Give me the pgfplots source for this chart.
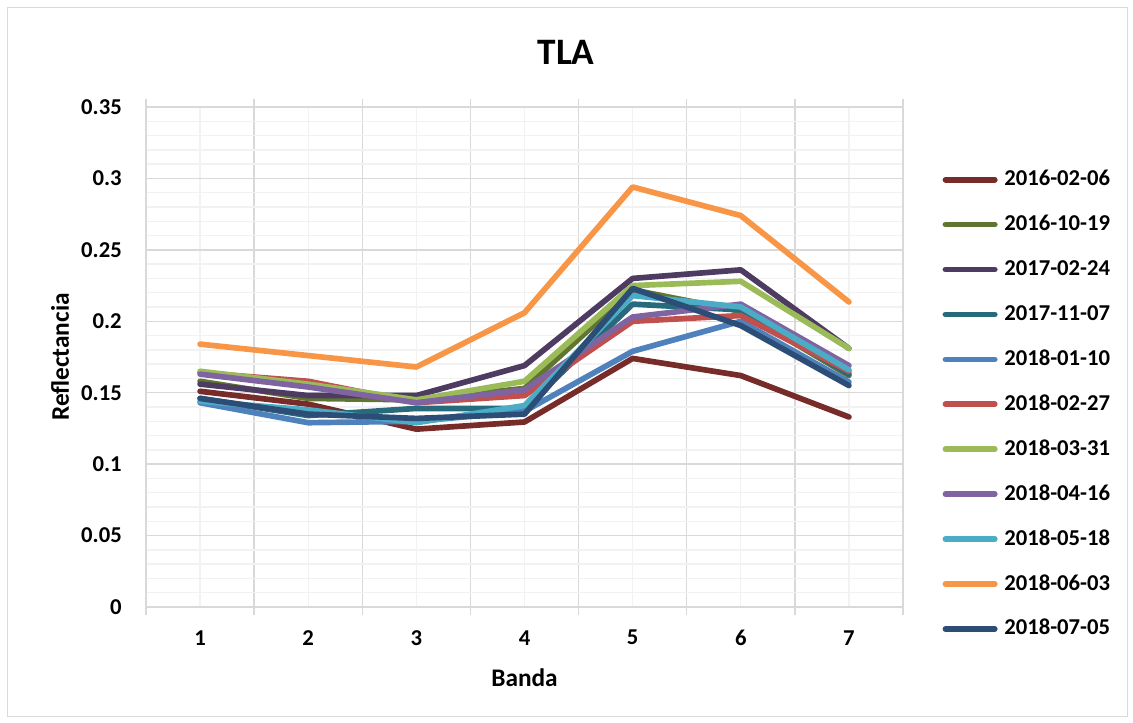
\documentclass[border=0pt]{standalone}
\usepackage{fontspec}
\setmainfont{Carlito}
\usepackage{pgfplots}
\pgfplotsset{compat=1.18}
\usepackage{pgfplotstable}

\definecolor{gmaj}{HTML}{D9D9D9}
\definecolor{gmin}{HTML}{F2F2F2}
\definecolor{c1}{HTML}{772C2A}
\definecolor{c2}{HTML}{5F7530}
\definecolor{c3}{HTML}{4D3B62}
\definecolor{c4}{HTML}{276A7C}
\definecolor{c5}{HTML}{4F81BD}
\definecolor{c6}{HTML}{C0504D}
\definecolor{c7}{HTML}{9BBB59}
\definecolor{c8}{HTML}{8064A2}
\definecolor{c9}{HTML}{4BACC6}
\definecolor{c10}{HTML}{F79646}
\definecolor{c11}{HTML}{2C4D75}

% reflectance per band, one column per date
\pgfplotstableread{
band s1     s2    s3    s4    s5     s6    s7    s8    s9    s10    s11
1    0.151  0.158 0.156 0.146 0.143  0.164 0.165 0.163 0.144 0.184  0.146
2    0.142  0.146 0.148 0.134 0.129  0.158 0.156 0.154 0.138 0.176  0.135
3    0.1245 0.145 0.148 0.139 0.130  0.143 0.145 0.143 0.129 0.168  0.132
4    0.1295 0.153 0.169 0.139 0.137  0.148 0.158 0.152 0.141 0.206  0.135
5    0.174  0.222 0.230 0.212 0.179  0.200 0.225 0.203 0.218 0.294  0.223
6    0.162  0.207 0.236 0.208 0.200  0.204 0.228 0.212 0.210 0.274  0.197
7    0.133  0.162 0.181 0.163 0.1575 0.165 0.181 0.169 0.166 0.2135 0.155
}\data

\newcommand\tickfont{\fontsize{17}{20}\selectfont\bfseries}

\begin{document}
\begin{tikzpicture}
\useasboundingbox (0pt,0pt) rectangle (849.75pt,541.5pt);
\draw[gmaj, line width=0.75pt] (5.25pt,4.5pt) rectangle (845.25pt,535.5pt);
\node[font=\fontsize{28}{34}\selectfont\bfseries] at (424.5pt,502.5pt) {TLA};
\begin{axis}[
    at={(109.5pt,86.25pt)}, anchor=south west,
    scale only axis, width=567.75pt, height=375pt,
    xmin=0.5, xmax=7.5, ymin=0, ymax=0.35,
    xtick={0.5,1.5,2.5,3.5,4.5,5.5,6.5,7.5}, xticklabels={},
    minor xtick={1,2,3,4,5,6,7},
    extra x ticks={1,2,3,4,5,6,7},
    extra x tick labels={1,2,3,4,5,6,7},
    extra x tick style={grid=none, major tick length=0pt},
    ytick={0,0.05,0.1,0.15,0.2,0.25,0.3,0.35},
    yticklabels={0,0.05,0.1,0.15,0.2,0.25,0.3,0.35},
    minor y tick num=4,
    scaled ticks=false,
    xmajorgrids, xminorgrids, ymajorgrids, yminorgrids,
    major grid style={gmaj, line width=1pt},
    minor grid style={gmin, line width=1pt},
    axis line style={gmaj, line width=1pt},
    tick style={gmaj, line width=1pt},
    tick align=outside, major tick length=6pt, minor tick length=0pt,
    ytick style={draw=none},
    tick label style={font=\tickfont, black},
    xticklabel style={anchor=center, yshift=-23pt},
    yticklabel style={anchor=east, inner sep=0pt, xshift=-12pt},
    xlabel={Banda}, ylabel={Reflectancia},
    label style={font=\fontsize{19}{23}\selectfont\bfseries},
    xlabel style={at={(axis description cs:0.5,-0.142)}, anchor=center},
    ylabel style={at={(axis description cs:-0.1136,0.5)}, anchor=center},
    every axis plot/.append style={line width=4.25pt, line join=round, line cap=round},
    legend image code/.code={\draw[#1] (0pt,-1pt) -- (37pt,-1pt);},
    legend style={at={(axis description cs:1.052,0.408)}, anchor=west,
        draw=none, fill=none, font=\tickfont, inner sep=0pt,
        row sep=22.7pt, cells={anchor=west},
        nodes={inner sep=0pt, text height=11pt, text depth=0pt},
        /tikz/every odd column/.append style={column sep=5pt}},
]
\addplot[c1]  table[x=band, y=s1]  {\data};
\addplot[c2]  table[x=band, y=s2]  {\data};
\addplot[c3]  table[x=band, y=s3]  {\data};
\addplot[c4]  table[x=band, y=s4]  {\data};
\addplot[c5]  table[x=band, y=s5]  {\data};
\addplot[c6]  table[x=band, y=s6]  {\data};
\addplot[c7]  table[x=band, y=s7]  {\data};
\addplot[c8]  table[x=band, y=s8]  {\data};
\addplot[c9]  table[x=band, y=s9]  {\data};
\addplot[c10] table[x=band, y=s10] {\data};
\addplot[c11] table[x=band, y=s11] {\data};
\legend{2016-02-06,2016-10-19,2017-02-24,2017-11-07,2018-01-10,2018-02-27,
        2018-03-31,2018-04-16,2018-05-18,2018-06-03,2018-07-05}
\end{axis}
\end{tikzpicture}
\end{document}
